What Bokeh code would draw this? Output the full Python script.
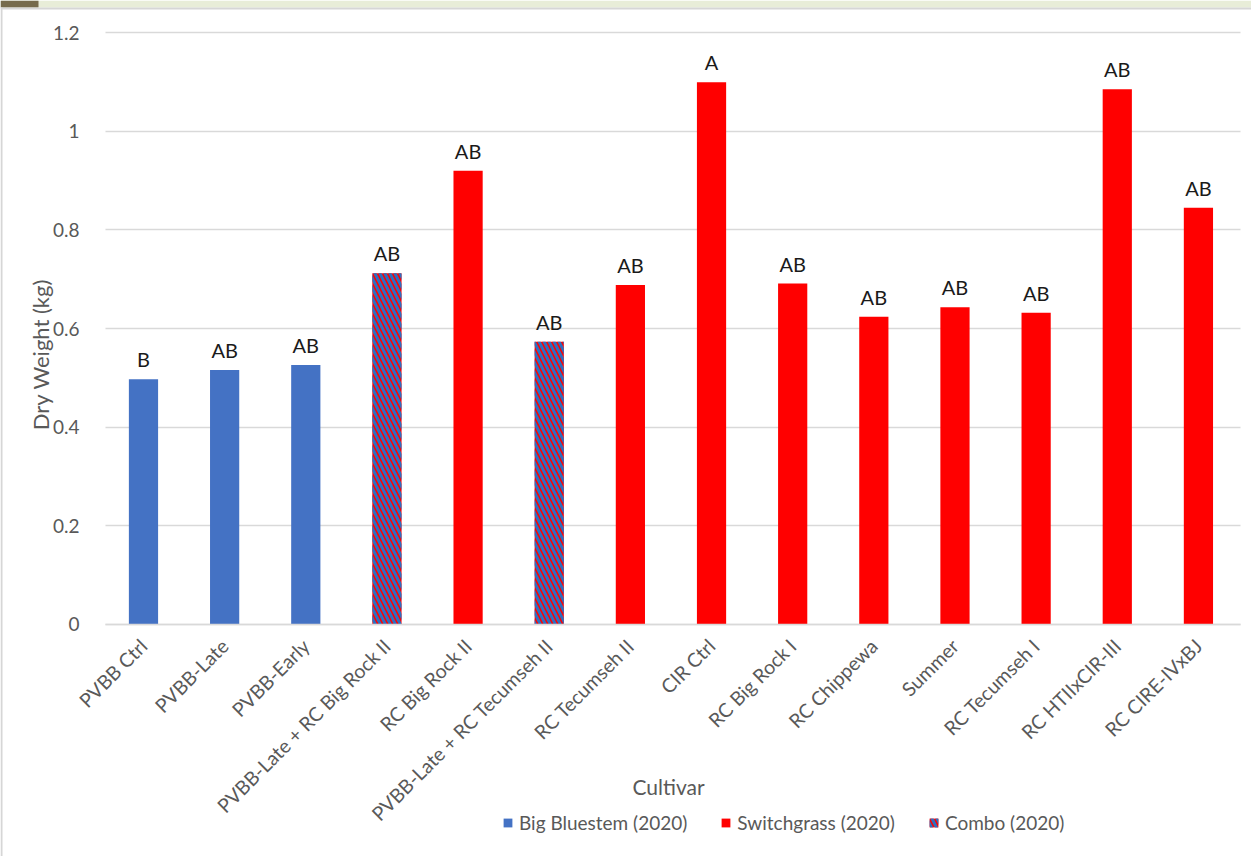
from math import pi

from bokeh.core.properties import value
from bokeh.embed import file_html
from bokeh.models import (BoxAnnotation, ColumnDataSource, FixedTicker, Label,
                          Legend, LegendItem, Range1d)
from bokeh.plotting import figure
from bokeh.resources import INLINE

# Dry weight per cultivar, 2020
cultivars = [
    "PVBB Ctrl", "PVBB-Late", "PVBB-Early", "PVBB-Late + RC Big Rock II",
    "RC Big Rock II", "PVBB-Late + RC Tecumseh II", "RC Tecumseh II",
    "CIR Ctrl", "RC Big Rock I", "RC Chippewa", "Summer", "RC Tecumseh I",
    "RC HTIIxCIR-III", "RC CIRE-IVxBJ",
]
dry_weight = [0.497, 0.516, 0.526, 0.712, 0.920, 0.573, 0.688,
              1.099, 0.691, 0.624, 0.643, 0.632, 1.085, 0.845]
letters = ["B", "AB", "AB", "AB", "AB", "AB", "AB",
           "A", "AB", "AB", "AB", "AB", "AB", "AB"]
groups = ["Big Bluestem (2020)", "Big Bluestem (2020)", "Big Bluestem (2020)",
          "Combo (2020)", "Switchgrass (2020)", "Combo (2020)",
          "Switchgrass (2020)", "Switchgrass (2020)", "Switchgrass (2020)",
          "Switchgrass (2020)", "Switchgrass (2020)", "Switchgrass (2020)",
          "Switchgrass (2020)", "Switchgrass (2020)"]
legend_order = ["Big Bluestem (2020)", "Switchgrass (2020)", "Combo (2020)"]
y_ticks = [0, 0.2, 0.4, 0.6, 0.8, 1, 1.2]
y_tick_labels = ["0", "0.2", "0.4", "0.6", "0.8", "1", "1.2"]

positions = list(range(len(cultivars)))

BLUE = "#4472C4"
RED = "#FF0000"
GREY_TEXT = "#595959"
GRID = "#D9D9D9"
FONT = "Lato"

W, H = 1251, 856

# the plot frame fills the whole canvas; both axes sit at fixed locations
p = figure(
    width=W, height=H,
    x_range=Range1d(-1.762, 13.654),
    y_range=Range1d(-0.4703, 1.2649),
    output_backend="svg", toolbar_location=None,
    min_border=0,
)
p.outline_line_color = None
p.background_fill_color = "white"
p.border_fill_color = "white"

styles = {
    "Big Bluestem (2020)": dict(fill_color=BLUE),
    "Switchgrass (2020)": dict(fill_color=RED),
    "Combo (2020)": dict(fill_color=RED, hatch_pattern="left_diagonal_line",
                         hatch_color="#2E6FC0", hatch_weight=3,
                         hatch_scale=10),
}

renderers = {}
for g in legend_order:
    idx = [i for i, gg in enumerate(groups) if gg == g]
    src = ColumnDataSource(dict(
        pos=[positions[i] for i in idx],
        weight=[dry_weight[i] for i in idx],
    ))
    renderers[g] = p.vbar(x="pos", top="weight", width=0.36, source=src,
                          line_color=None, **styles[g])

# significance letters above each bar
lab_src = ColumnDataSource(dict(pos=positions, weight=dry_weight,
                                letter=letters))
p.text(x="pos", y="weight", text="letter", source=lab_src,
       text_align="center", text_baseline="alphabetic", y_offset=-20,
       text_font=value(FONT), text_font_size="20px", text_color="#1A1A1A")

# y axis
p.yaxis.fixed_location = -0.505
p.yaxis.ticker = FixedTicker(ticks=y_ticks)
p.yaxis.major_label_overrides = dict(zip(y_ticks, y_tick_labels))
p.yaxis.axis_line_color = None
p.yaxis.major_tick_line_color = None
p.yaxis.minor_tick_line_color = None
p.yaxis.major_label_standoff = 17
p.yaxis.major_label_text_font = FONT
p.yaxis.major_label_text_font_size = "19px"
p.yaxis.major_label_text_color = GREY_TEXT

# x axis at zero, one labelled tick per cultivar
p.xaxis.fixed_location = 0
p.xaxis.bounds = (-0.47, 13.52)
p.xaxis.ticker = FixedTicker(ticks=positions)
p.xaxis.major_label_overrides = dict(zip(positions, cultivars))
p.xaxis.axis_line_color = GRID
p.xaxis.axis_line_width = 1.5
p.xaxis.major_tick_line_color = None
p.xaxis.minor_tick_line_color = None
p.xaxis.major_label_orientation = pi / 4
p.xaxis.major_label_standoff = 12
p.xaxis.major_label_text_font = FONT
p.xaxis.major_label_text_font_size = "19.5px"
p.xaxis.major_label_text_color = GREY_TEXT

p.xgrid.grid_line_color = None
p.ygrid.grid_line_color = GRID
p.ygrid.grid_line_width = 1.3
p.ygrid.cross_bounds = (-0.47, 13.52)

# axis titles
p.add_layout(Label(x=668, y=70, x_units="screen", y_units="screen",
                   text="Cultivar", text_align="center",
                   text_baseline="alphabetic", text_font=FONT,
                   text_font_size="21px", text_color=GREY_TEXT))
p.add_layout(Label(x=40, y=502, x_units="screen", y_units="screen",
                   text="Dry Weight (kg)", angle=pi / 2, text_align="center",
                   text_baseline="alphabetic", text_font=FONT,
                   text_font_size="22px", text_color=GREY_TEXT))

legend = Legend(
    items=[LegendItem(label=g, renderers=[renderers[g]]) for g in legend_order],
    orientation="horizontal", location=(502, 22),
    glyph_width=11, glyph_height=11, label_standoff=6, spacing=33,
    padding=0, margin=0, border_line_color=None, background_fill_alpha=0,
    label_text_font=FONT, label_text_font_size="19px",
    label_text_color=GREY_TEXT,
)
p.add_layout(legend)

# window header band and chart border
p.add_layout(BoxAnnotation(left=0, right=W, bottom=H - 7, top=H,
                           left_units="screen", right_units="screen",
                           bottom_units="screen", top_units="screen",
                           fill_color="#E8EDD8", fill_alpha=1,
                           line_color=None))
p.add_layout(BoxAnnotation(left=0, right=38, bottom=H - 7, top=H,
                           left_units="screen", right_units="screen",
                           bottom_units="screen", top_units="screen",
                           fill_color="#766B4C", fill_alpha=1,
                           line_color=None))
p.add_layout(BoxAnnotation(left=0, right=W, bottom=H - 9, top=H - 7,
                           left_units="screen", right_units="screen",
                           bottom_units="screen", top_units="screen",
                           fill_color="#D6D6D6", fill_alpha=1,
                           line_color=None))
p.add_layout(BoxAnnotation(left=0, right=2, bottom=0, top=H - 7,
                           left_units="screen", right_units="screen",
                           bottom_units="screen", top_units="screen",
                           fill_color="#D6D6D6", fill_alpha=1,
                           line_color=None))

open("out.html", "w").write(file_html(p, INLINE))
